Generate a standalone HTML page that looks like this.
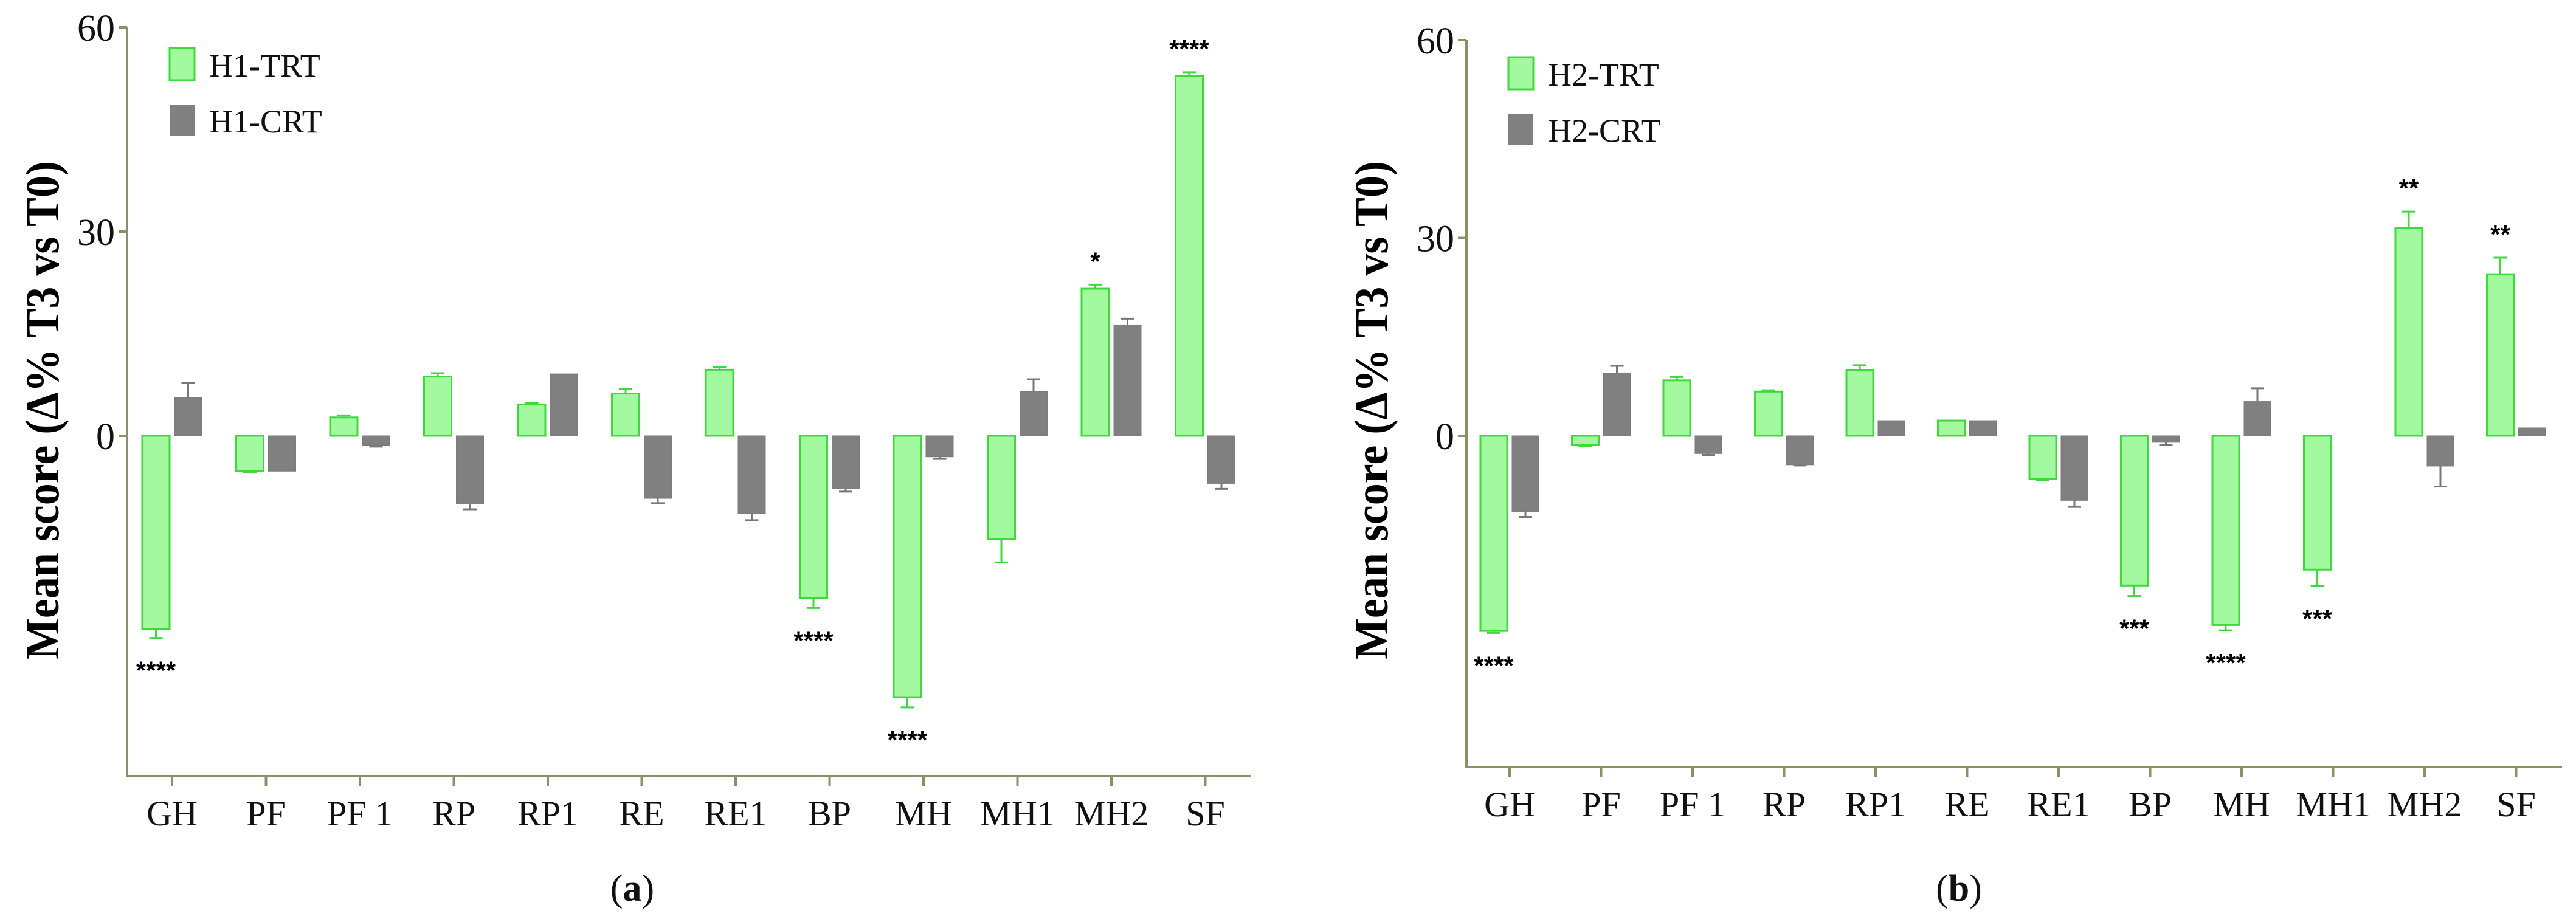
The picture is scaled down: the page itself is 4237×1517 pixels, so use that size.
<!DOCTYPE html>
<html><head><meta charset="utf-8"><style>
html,body{margin:0;padding:0;background:#fff;}
svg{display:block;}
</style></head><body>
<svg id="chart" width="4237" height="1517" viewBox="0 0 4237 1517" xmlns="http://www.w3.org/2000/svg">
<g id="pa"></g>
<g id="pb"></g>
</svg>
<script>
const categories = ["GH","PF","PF 1","RP","RP1","RE","RE1","BP","MH","MH1","MH2","SF"];
const yTicks = [0,30,60];
const yTickLabels = ["0","30","60"];
// Panel a
const aTrt = [-28.4,-5.2,2.7,8.7,4.6,6.2,9.7,-23.8,-38.4,-15.2,21.6,52.9];
const aTrtErr = [1.3,0.2,0.3,0.5,0.2,0.7,0.4,1.5,1.5,3.4,0.6,0.5];
const aCrt = [5.6,-5.2,-1.4,-10.0,9.1,-9.2,-11.4,-7.8,-3.1,6.5,16.3,-7.0];
const aCrtErr = [2.2,0,0.2,0.8,0,0.7,1.0,0.4,0.3,1.8,0.9,0.8];
const aStars = ["****","","","","","","","****","****","","*","****"];
// Panel b
const bTrt = [-29.6,-1.4,8.4,6.7,10.0,2.3,-6.5,-22.7,-28.7,-20.3,31.5,24.5];
const bTrtErr = [0.3,0.2,0.5,0.2,0.7,0,0.2,1.6,0.8,2.5,2.5,2.5];
const bCrt = [-11.5,9.5,-2.7,-4.4,2.3,2.3,-9.8,-1.0,5.2,0,-4.6,1.2];
const bCrtErr = [0.8,1.1,0.2,0.1,0,0,1.0,0.4,2.0,0,3.1,0];
const bStars = ["****","","","","","","","***","****","***","**","**"];

const NS="http://www.w3.org/2000/svg";
function mk(parent,tag,attrs,text){const e=document.createElementNS(NS,tag);for(const k in attrs)e.setAttribute(k,attrs[k]);if(text!==undefined)e.textContent=text;parent.appendChild(e);return e;}

function drawPanel(g,cfg){
  const yScale=v=>cfg.y0-v*cfg.ppu;
  const xScale=i=>cfg.x0+i*cfg.step;
  const axisC="#8f8f66";
  const tcy=675;
  let t=mk(g,"text",{x:cfg.titleX,y:tcy,"font-family":"Liberation Serif, serif","font-weight":"bold","font-size":78,"text-anchor":"middle",transform:`rotate(-90 ${cfg.titleX} ${tcy})`,textLength:820,lengthAdjust:"spacingAndGlyphs"},"Mean score (Δ% T3 vs T0)");
  
  
  let ya=mk(g,"line",{x1:cfg.axisX,y1:yScale(60),x2:cfg.axisX,y2:cfg.yBottom,stroke:axisC,"stroke-width":4});
  
  
  yTicks.forEach((v,i)=>{
    const tk=mk(g,"line",{x1:cfg.axisX-14,y1:yScale(v),x2:cfg.axisX,y2:yScale(v),stroke:axisC,"stroke-width":4});
    
    
    const tl=mk(g,"text",{x:cfg.axisX-20,y:yScale(v)+22,"font-family":"Liberation Serif, serif","font-size":62,"text-anchor":"end",fill:"#111"},yTickLabels[i]);
    
    
  });
  let xa=mk(g,"line",{x1:cfg.axisX-2,y1:cfg.yBottom,x2:cfg.xEnd,y2:cfg.yBottom,stroke:axisC,"stroke-width":4});
  
  
  categories.forEach((c,i)=>{
    const x=xScale(i);
    const tk=mk(g,"line",{x1:x,y1:cfg.yBottom,x2:x,y2:cfg.yBottom+17,stroke:axisC,"stroke-width":4});
    
    
    const tl=mk(g,"text",{x:x,y:cfg.yBottom+81,"font-family":"Liberation Serif, serif","font-size":58,"text-anchor":"middle",fill:"#111"},c);
    
    
  });
  const bw=cfg.bw;
  function bar(i,v,err,isTrt){
    if(v===0)return;
    const cx=xScale(i);
    const x=isTrt?cx-bw-4:cx+4;
    const y=Math.min(yScale(v),yScale(0)), h=Math.abs(yScale(v)-yScale(0));
    const r=mk(g,"rect",{x:x,y:y,width:bw,height:Math.max(h,1),fill:isTrt?"#a3f9a0":"#808080",stroke:isTrt?"#3fd93c":"#7a7a7a","stroke-width":isTrt?3:1});
    
    
    if(err>0){
      const mid=x+bw/2, e=v>=0?v+err:v-err;
      const col=isTrt?"#3fd93c":"#777";
      const el=mk(g,"path",{d:`M${mid},${yScale(v)} L${mid},${yScale(e)} M${mid-11},${yScale(e)} L${mid+11},${yScale(e)}`,stroke:col,"stroke-width":3,fill:"none"});
      
      
    }
  }
  cfg.trt.forEach((v,i)=>bar(i,v,cfg.trtErr[i],true));
  cfg.crt.forEach((v,i)=>bar(i,v,cfg.crtErr[i],false));
  cfg.stars.forEach((s,i)=>{
    if(!s)return;
    const v=cfg.trt[i], e=v>=0?v+cfg.trtErr[i]:v-cfg.trtErr[i];
    const cx=xScale(i)-bw/2-4;
    const y=v>=0?yScale(e)-24:yScale(e)+68;
    const st=mk(g,"text",{x:cx,y:y,"font-family":"Liberation Sans, sans-serif","font-weight":"bold","font-size":42,"text-anchor":"middle",fill:"#000"},s);
    
    
  });
  const l1=mk(g,"rect",{x:cfg.legX,y:cfg.legY,width:41,height:53,fill:"#a3f9a0",stroke:"#3fd93c","stroke-width":3});
  
  
  const l2=mk(g,"rect",{x:cfg.legX,y:cfg.legY+94,width:41,height:51,fill:"#808080"});
  
  
  const lt1=mk(g,"text",{x:cfg.legX+65,y:cfg.legY+47,"font-family":"Liberation Serif, serif","font-size":54,fill:"#111"},cfg.names[0]);
  
  
  const lt2=mk(g,"text",{x:cfg.legX+65,y:cfg.legY+139,"font-family":"Liberation Serif, serif","font-size":54,fill:"#111"},cfg.names[1]);
  
  
  const cap=mk(g,"text",{x:cfg.capX,y:1482,"font-family":"Liberation Serif, serif","font-size":62,"text-anchor":"middle",fill:"#111"},"");
  mk(cap,"tspan",{},"(");mk(cap,"tspan",{"font-weight":"bold"},cfg.cap);mk(cap,"tspan",{},")");
  
  
}

drawPanel(document.getElementById('pa'),{
  axisX:209,x0:283,step:154.5,xEnd:2057,y0:717,ppu:11.2,yBottom:1277,bw:45,titleX:96,
  trt:aTrt,trtErr:aTrtErr,crt:aCrt,crtErr:aCrtErr,stars:aStars,legX:279,legY:79,names:["H1-TRT","H1-CRT"],capX:1040,cap:"a"
});
drawPanel(document.getElementById('pb'),{
  axisX:2412,x0:2483,step:150.5,xEnd:4214,y0:717,ppu:10.85,yBottom:1262,bw:44,titleX:2282,
  trt:bTrt,trtErr:bTrtErr,crt:bCrt,crtErr:bCrtErr,stars:bStars,legX:2481,legY:94,names:["H2-TRT","H2-CRT"],capX:3222,cap:"b"
});
</script>
</body></html>
